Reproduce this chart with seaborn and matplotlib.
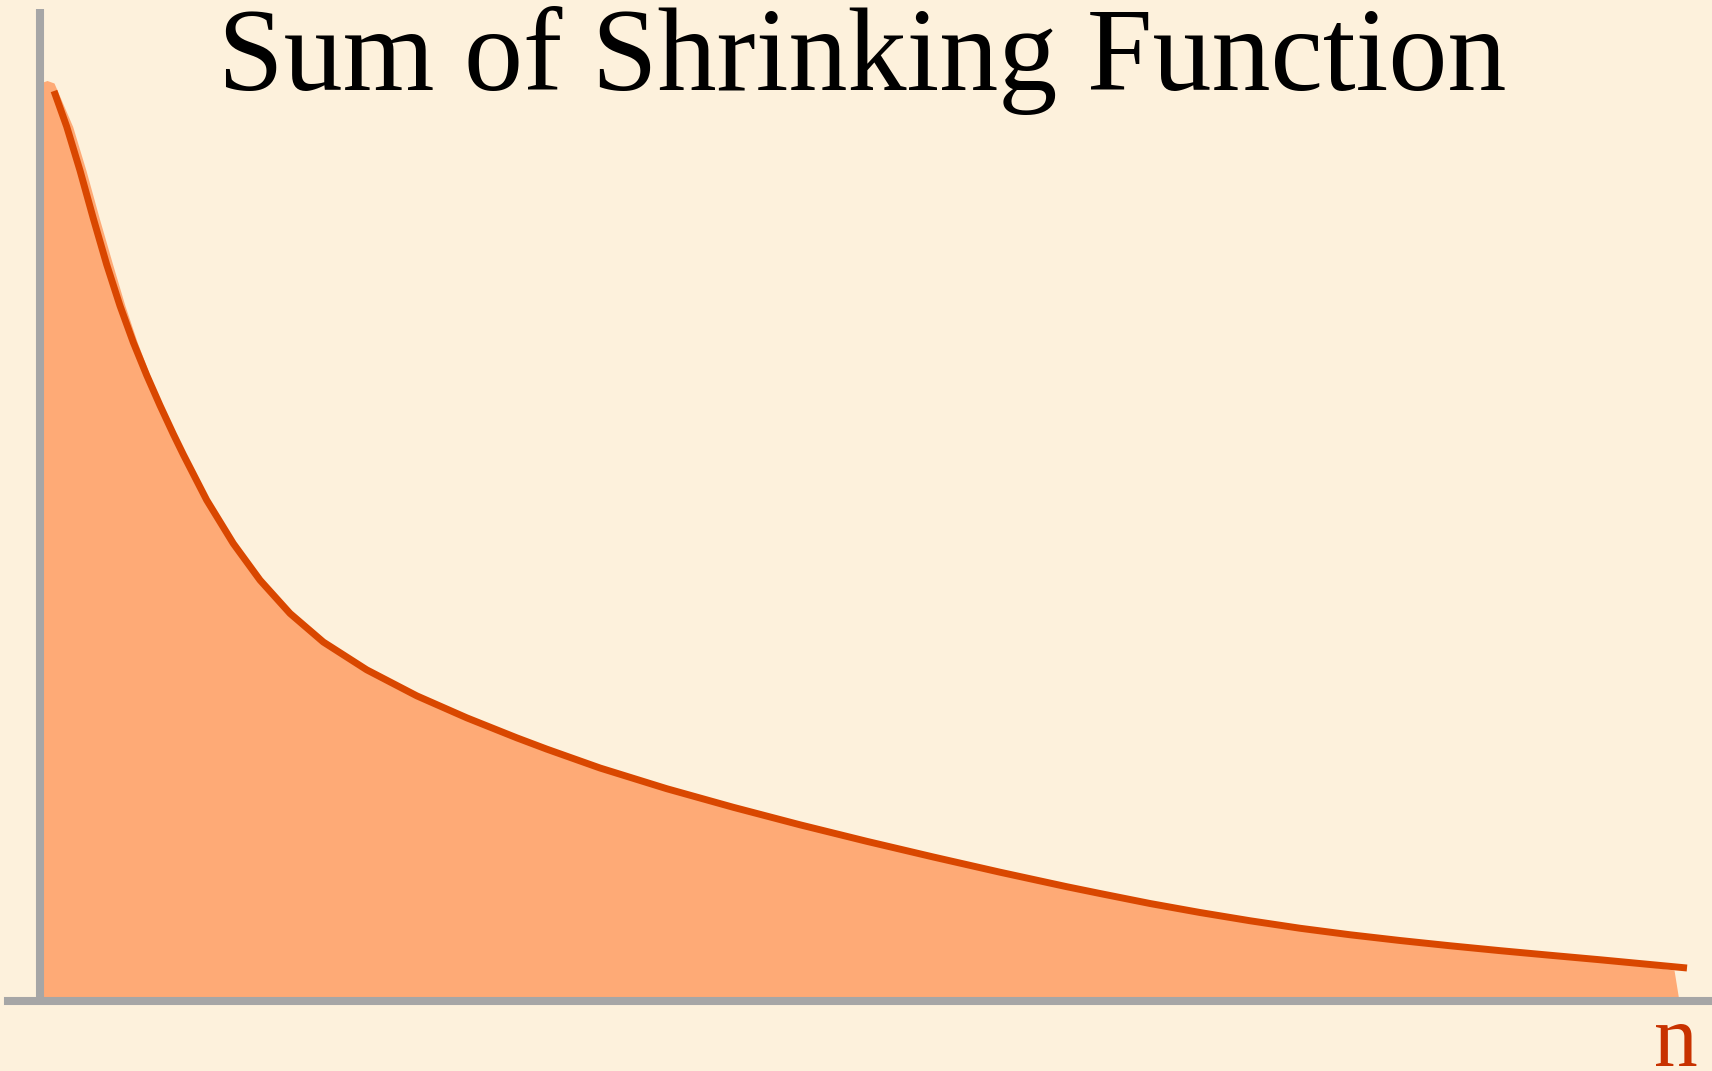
import matplotlib
matplotlib.use("Agg")
import matplotlib.pyplot as plt
import seaborn as sns
import pandas as pd

# values, in picture units:
# n = distance along the axis from the vertical line, v = height above the axis
line_n = [14, 26.7, 40, 53.3, 66.7, 80, 93.3, 106.7, 120, 133.3,
          143.3, 166.7, 193.3, 220, 250, 283.3, 326.7, 376.7, 426.7, 476.7,
          506.7, 560, 626.7, 693.3, 760, 826.7, 893.3, 960, 1026.7, 1060,
          1110, 1160, 1210, 1260, 1310, 1360, 1410, 1460, 1510, 1560, 1647]
line_v = [910, 874.4, 830.5, 782.6, 736.4, 695.2, 658.6, 625.8, 595.6, 567.0,
          546.5, 500.9, 457.5, 420.9, 387.6, 359.0, 331.2, 305.2, 283.2, 263.2,
          251.9, 233.0, 212.3, 193.7, 176.2, 159.7, 144.0, 128.8, 114.3, 107.5,
          97.5, 88.5, 80.25, 72.75, 66.25, 60.5, 55.25, 50.35, 45.75, 41.25, 33.0]

# shaded area: its edge bulges a little past the line near the top, and drops
# to the axis just before the line ends
area_n = [0, 7, 14, 32.7, 46, 59.3, 72.7, 85, 97.3, 109.7, 122, 133.3,
          143.3, 166.7, 193.3, 220, 250, 283.3, 326.7, 376.7, 426.7, 476.7,
          506.7, 560, 626.7, 693.3, 760, 826.7, 893.3, 960, 1026.7, 1060,
          1110, 1160, 1210, 1260, 1310, 1360, 1410, 1460, 1510, 1560, 1634, 1639]
area_v = [918, 920.5, 918, 874.4, 830.5, 782.6, 736.4, 695.2, 658.6, 625.8, 595.6, 567.0,
          546.5, 500.9, 457.5, 420.9, 387.6, 359.0, 331.2, 305.2, 283.2, 263.2,
          251.9, 233.0, 212.3, 193.7, 176.2, 159.7, 144.0, 128.8, 114.3, 107.5,
          97.5, 88.5, 80.25, 72.75, 66.25, 60.5, 55.25, 50.35, 45.75, 41.25, 31.0, 0]

title = "Sum of Shrinking Function"
x_label = "n"

bg = "#fdf1dc"
sns.set_theme(style="white", rc={"figure.facecolor": bg, "axes.facecolor": bg})
plt.rcParams["font.family"] = ["Liberation Serif", "DejaVu Serif"]

df = pd.DataFrame({"n": line_n, "v": line_v})

fig = plt.figure(figsize=(17.12, 10.71), dpi=100)
ax = fig.add_axes([8 / 1712, 70 / 1071, 1 - 8 / 1712, (1071 - 70 - 9) / 1071])

ax.fill_between(area_n, area_v, 0, color="#feaa76", lw=0, zorder=1)
sns.lineplot(data=df, x="n", y="v", ax=ax, color="#d94700", lw=5.0,
             solid_capstyle="butt", solid_joinstyle="round", zorder=2)
ax.axvline(0, color="#a6a6a6", lw=5.8, zorder=3)

ax.set_xlim(-32, 1672)
ax.set_ylim(0, 992)
for s in ["top", "right", "left"]:
    ax.spines[s].set_visible(False)
ax.spines["bottom"].set_color("#a6a6a6")
ax.spines["bottom"].set_linewidth(5.8)
ax.spines["bottom"].set_zorder(4)
ax.set_xticks([])
ax.set_yticks([])
ax.set_xlabel("")
ax.set_ylabel("")

fig.text(862 / 1712, 1 - 90 / 1071, title, ha="center", va="baseline",
         fontsize=85, color="black")
fig.text(1676 / 1712, 1 - 1066 / 1071, x_label, ha="center", va="baseline",
         fontsize=63, color="#c83200")

fig.savefig("out.png", dpi=100, facecolor=bg)
